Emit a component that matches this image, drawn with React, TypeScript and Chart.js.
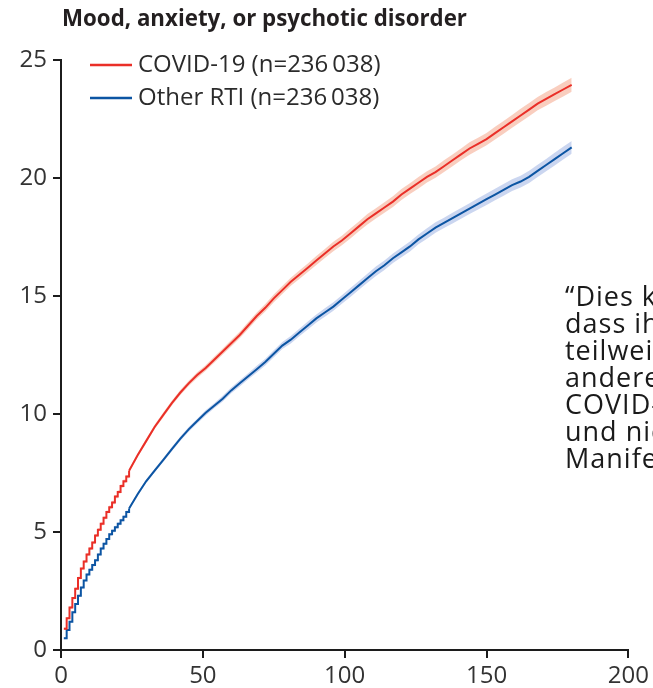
import { useEffect, useRef } from "react";
import { Chart, registerables } from "chart.js";

Chart.register(...registerables);

const titleText = "Mood, anxiety, or psychotic disorder";
const seriesLabels = ["COVID-19 (n=236\u2009038)", "Other RTI (n=236\u2009038)"];
const xTicks = [0, 50, 100, 150, 200];
const yTicks = [0, 5, 10, 15, 20, 25];

const days = [
  1, 2, 3, 4, 5, 6, 7, 8, 9, 10, 11, 12, 13, 14, 15, 16, 17, 18, 19, 20, 21, 22, 23, 24,
  27, 30, 33, 36, 39, 42, 45, 48, 51, 54, 57, 60, 63, 66, 69, 72, 75, 78, 81, 84, 87, 90,
  93, 96, 99, 102, 105, 108, 111, 114, 117, 120, 123, 126, 129, 132, 135, 138, 141, 144,
  147, 150, 153, 156, 159, 162, 165, 168, 171, 174, 177, 180,
];

const covid = [
  0.9, 1.35, 1.8, 2.2, 2.6, 3.05, 3.45, 3.75, 4.05, 4.3, 4.55, 4.85, 5.1, 5.35, 5.6, 5.85,
  6.05, 6.25, 6.5, 6.7, 6.95, 7.15, 7.35, 7.6,
  8.25, 8.85, 9.45, 9.95, 10.45, 10.9, 11.3, 11.65, 11.95, 12.3, 12.65, 13.0, 13.35, 13.75,
  14.15, 14.5, 14.9, 15.25, 15.6, 15.9, 16.2, 16.5, 16.8, 17.1, 17.35, 17.65, 17.95, 18.25,
  18.5, 18.75, 19.0, 19.3, 19.55, 19.8, 20.05, 20.25, 20.5, 20.75, 21.0, 21.25, 21.45, 21.65,
  21.9, 22.15, 22.4, 22.65, 22.9, 23.15, 23.35, 23.55, 23.75, 23.95,
];

const rti = [
  0.5, 0.85, 1.2, 1.6, 1.95, 2.3, 2.65, 2.95, 3.2, 3.4, 3.6, 3.8, 4.05, 4.3, 4.5, 4.7, 4.9,
  5.05, 5.2, 5.35, 5.5, 5.65, 5.85, 6.0,
  6.6, 7.15, 7.6, 8.05, 8.5, 8.95, 9.35, 9.7, 10.05, 10.35, 10.65, 11.0, 11.3, 11.6, 11.9,
  12.2, 12.55, 12.9, 13.15, 13.45, 13.75, 14.05, 14.3, 14.55, 14.85, 15.15, 15.45, 15.75,
  16.05, 16.3, 16.6, 16.85, 17.1, 17.4, 17.65, 17.9, 18.1, 18.3, 18.5, 18.7, 18.9, 19.1,
  19.3, 19.5, 19.7, 19.85, 20.05, 20.3, 20.55, 20.8, 21.05, 21.3,
];

const covidCI = [
  0.05, 0.05, 0.05, 0.05, 0.05, 0.05, 0.05, 0.05, 0.06, 0.06, 0.06, 0.06, 0.06, 0.06, 0.06,
  0.06, 0.07, 0.07, 0.07, 0.07, 0.07, 0.07, 0.07, 0.07,
  0.08, 0.09, 0.09, 0.1, 0.1, 0.11, 0.11, 0.12, 0.12, 0.13, 0.13, 0.14, 0.14, 0.15, 0.15,
  0.16, 0.16, 0.17, 0.17, 0.18, 0.18, 0.19, 0.19, 0.2, 0.2, 0.21, 0.21, 0.22, 0.22, 0.22,
  0.23, 0.23, 0.23, 0.24, 0.24, 0.24, 0.25, 0.25, 0.25, 0.26, 0.26, 0.26, 0.27, 0.27, 0.27,
  0.28, 0.28, 0.28, 0.29, 0.29, 0.3, 0.3,
];

const rtiCI = [
  0.04, 0.04, 0.04, 0.04, 0.04, 0.04, 0.04, 0.04, 0.05, 0.05, 0.05, 0.05, 0.05, 0.05, 0.05,
  0.05, 0.06, 0.06, 0.06, 0.06, 0.06, 0.06, 0.06, 0.06,
  0.07, 0.07, 0.08, 0.08, 0.09, 0.09, 0.1, 0.1, 0.11, 0.11, 0.12, 0.12, 0.13, 0.13, 0.14,
  0.14, 0.15, 0.15, 0.16, 0.16, 0.17, 0.17, 0.18, 0.18, 0.18, 0.19, 0.19, 0.19, 0.2, 0.2,
  0.2, 0.21, 0.21, 0.21, 0.22, 0.22, 0.22, 0.23, 0.23, 0.23, 0.24, 0.24, 0.24, 0.25, 0.25,
  0.25, 0.26, 0.26, 0.26, 0.27, 0.27, 0.27,
];

// daily (stepped) part ends at this index of `days`
const DAILY_END = 23;

const quoteLines = [
  "\u201cDies könnte bedeuten,",
  "dass ihre Ursachen",
  "teilweise auf",
  "andere Aspekte von",
  "COVID-19 zurückgehen",
  "und nicht nur auf die",
  "Manifestation",
];

const RED = "#ea2f28";
const BLUE = "#0c55a3";
const RED_BAND = "rgba(247, 190, 170, 0.75)";
const BLUE_BAND = "rgba(190, 204, 236, 0.8)";
const AXIS = "#1c1c1c";
const TICK_TEXT = "#333333";
const FONT = '"Open Sans", "Noto Sans", sans-serif';

export default function App() {
  const ref = useRef<HTMLCanvasElement>(null);

  useEffect(() => {
    const canvas = ref.current;
    if (!canvas) return;

    const pts = (vals: number[], off: number[], sign: number, from: number, to: number) =>
      days
        .map((d, i) => ({ x: d, y: vals[i] + sign * off[i] }))
        .slice(from, to + 1);

    const seriesDatasets = (
      label: string,
      vals: number[],
      ci: number[],
      color: string,
      band: string
    ) => {
      const parts = [
        { from: 0, to: DAILY_END, stepped: true },
        { from: DAILY_END, to: days.length - 1, stepped: false },
      ];
      const out: any[] = [];
      for (const p of parts) {
        out.push({
          label,
          data: pts(vals, ci, 0, p.from, p.to),
          borderColor: color,
          borderWidth: 2,
          pointRadius: 0,
          stepped: p.stepped,
          tension: 0,
          fill: false,
          order: 0,
        });
      }
      for (const p of parts) {
        out.push({
          label: label + " low",
          data: pts(vals, ci, -1, p.from, p.to),
          borderWidth: 0,
          pointRadius: 0,
          stepped: p.stepped,
          fill: false,
          order: 1,
        });
        out.push({
          label: label + " high",
          data: pts(vals, ci, 1, p.from, p.to),
          borderWidth: 0,
          pointRadius: 0,
          stepped: p.stepped,
          fill: "-1",
          backgroundColor: band,
          order: 1,
        });
      }
      return out;
    };

    const overlay = {
      id: "overlay",
      afterDraw(chart: any) {
        const ctx = chart.ctx;
        ctx.save();
        ctx.fillStyle = "#231f20";
        ctx.font = `bold 22.3px ${FONT}`;
        ctx.textBaseline = "alphabetic";
        ctx.fillText(titleText, 62, 26);

        const items = [
          { label: seriesLabels[0], color: RED, y: 65 },
          { label: seriesLabels[1], color: BLUE, y: 98 },
        ];
        ctx.font = `24px ${FONT}`;
        ctx.textBaseline = "middle";
        for (const it of items) {
          ctx.strokeStyle = it.color;
          ctx.lineWidth = 2.5;
          ctx.beginPath();
          ctx.moveTo(90, it.y);
          ctx.lineTo(132, it.y);
          ctx.stroke();
          ctx.fillStyle = "#2b2b2b";
          ctx.fillText(it.label, 138, it.y);
        }
        ctx.restore();
      },
    };

    const axisCommon = {
      grid: {
        drawOnChartArea: false,
        drawTicks: true,
        tickLength: 8,
        color: AXIS,
        lineWidth: 2,
      },
      border: { color: AXIS, width: 2 },
    };

    const chart = new Chart(canvas, {
      type: "line",
      data: {
        datasets: [
          ...seriesDatasets(seriesLabels[0], covid, covidCI, RED, RED_BAND),
          ...seriesDatasets(seriesLabels[1], rti, rtiCI, BLUE, BLUE_BAND),
        ],
      },
      options: {
        responsive: false,
        animation: false,
        devicePixelRatio: 1,
        layout: { padding: { top: 60, right: 22, left: 0, bottom: 0 } },
        plugins: {
          legend: { display: false },
          tooltip: { enabled: false },
          title: { display: false },
        },
        scales: {
          x: {
            type: "linear",
            min: 0,
            max: 200,
            afterBuildTicks: (s: any) => {
              s.ticks = xTicks.map((v) => ({ value: v }));
            },
            afterFit: (s: any) => {
              s.height = 38;
            },
            ...axisCommon,
            ticks: {
              font: { family: FONT, size: 24 },
              color: TICK_TEXT,
              padding: 4,
              maxRotation: 0,
              autoSkip: false,
            },
          },
          y: {
            type: "linear",
            min: 0,
            max: 25,
            afterBuildTicks: (s: any) => {
              s.ticks = yTicks.map((v) => ({ value: v }));
            },
            afterFit: (s: any) => {
              s.width = 61;
            },
            ...axisCommon,
            ticks: {
              font: { family: FONT, size: 24 },
              color: TICK_TEXT,
              padding: 6,
              autoSkip: false,
            },
          },
        },
      },
      plugins: [overlay],
    } as any);

    return () => chart.destroy();
  }, []);

  return (
    <div
      style={{
        position: "fixed",
        left: 0,
        top: 0,
        width: 653,
        height: 688,
        overflow: "hidden",
        background: "#ffffff",
      }}
    >
      <canvas
        ref={ref}
        width={653}
        height={688}
        style={{ position: "absolute", left: 0, top: 0, width: 653, height: 688 }}
      />
      <div
        style={{
          position: "absolute",
          left: 565,
          top: 282,
          fontFamily: FONT,
          fontSize: 27,
          letterSpacing: "1px",
          lineHeight: "27px",
          color: "#1a1a1a",
          whiteSpace: "nowrap",
        }}
      >
        {quoteLines.map((l, i) => (
          <div key={i}>{l}</div>
        ))}
      </div>
    </div>
  );
}
